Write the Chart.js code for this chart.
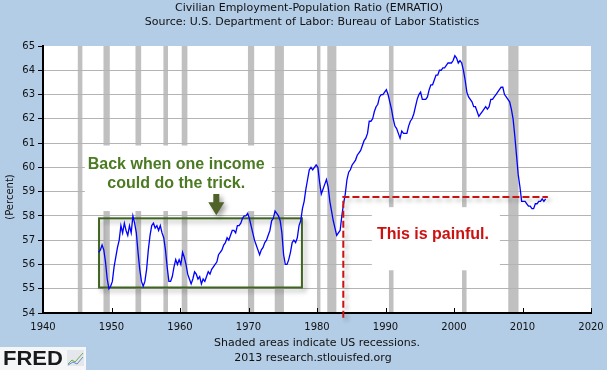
<!DOCTYPE html>
<html>
<head>
<meta charset="utf-8">
<script src="https://cdn.jsdelivr.net/npm/chart.js@4.4.1/dist/chart.umd.min.js"></script>
<style>
  html, body { margin: 0; padding: 0; background: #B3CDE6; }
  #wrap { width: 607px; height: 370px; }
</style>
</head>
<body>
<div id="wrap"><canvas id="emChart" width="607" height="370"></canvas></div>
<script>

// EMRATIO, quarterly readings, 1948 Q1 .. 2013 Q2
const firstYear = 1948;
const emratio = [
    56.5, 56.6, 56.8, 56.6,   // 1948
    56.1, 55.4, 55.0, 55.1,   // 1949
    55.3, 55.9, 56.3, 56.7,   // 1950
    57.0, 57.6, 57.3, 57.7,   // 1951
    57.4, 57.2, 57.6, 57.3,   // 1952
    58.0, 57.7, 57.3, 56.5,   // 1953
    55.8, 55.3, 55.1, 55.3,   // 1954
    55.8, 56.6, 57.2, 57.6,   // 1955
    57.7, 57.5, 57.6, 57.4,   // 1956
    57.6, 57.3, 57.1, 56.6,   // 1957
    55.9, 55.3, 55.3, 55.5,   // 1958
    55.9, 56.2, 56.0, 56.2,   // 1959
    56.0, 56.5, 56.3, 56.0,   // 1960
    55.6, 55.4, 55.2, 55.4,   // 1961
    55.7, 55.6, 55.4, 55.5,   // 1962
    55.2, 55.4, 55.3, 55.5,   // 1963
    55.7, 55.6, 55.8, 55.9,   // 1964
    56.0, 56.1, 56.4, 56.5,   // 1965
    56.6, 56.8, 56.9, 57.1,   // 1966
    57.0, 57.2, 57.4, 57.4,   // 1967
    57.3, 57.6, 57.6, 57.7,   // 1968
    57.9, 58.0, 58.0, 58.1,   // 1969
    57.9, 57.6, 57.3, 57.0,   // 1970
    56.8, 56.6, 56.4, 56.6,   // 1971
    56.7, 56.9, 57.0, 57.2,   // 1972
    57.4, 57.8, 57.9, 58.2,   // 1973
    58.1, 58.0, 57.8, 57.3,   // 1974
    56.4, 56.0, 56.0, 56.2,   // 1975
    56.5, 56.9, 57.0, 56.9,   // 1976
    57.1, 57.6, 57.8, 58.3,   // 1977
    58.6, 59.1, 59.5, 59.9,   // 1978
    60.0, 59.9, 60.0, 60.1,   // 1979
    60.0, 59.4, 58.9, 59.1,   // 1980
    59.3, 59.5, 59.2, 58.6,   // 1981
    58.2, 57.8, 57.5, 57.2,   // 1982
    57.3, 57.4, 58.0, 58.5,   // 1983
    58.9, 59.5, 59.8, 59.9,   // 1984
    60.1, 60.2, 60.3, 60.5,   // 1985
    60.6, 60.7, 60.9, 61.1,   // 1986
    61.2, 61.4, 61.9, 61.9,   // 1987
    62.0, 62.3, 62.5, 62.6,   // 1988
    62.9, 63.0, 63.0, 63.1,   // 1989
    63.2, 63.0, 62.7, 62.4,   // 1990
    62.0, 61.7, 61.6, 61.4,   // 1991
    61.2, 61.5, 61.4, 61.4,   // 1992
    61.4, 61.7, 61.9, 62.0,   // 1993
    62.2, 62.5, 62.8, 63.0,   // 1994
    63.1, 62.8, 62.8, 62.8,   // 1995
    62.9, 63.2, 63.4, 63.4,   // 1996
    63.6, 63.8, 63.8, 64.0,   // 1997
    64.0, 64.1, 64.1, 64.2,   // 1998
    64.3, 64.3, 64.3, 64.4,   // 1999
    64.6, 64.5, 64.3, 64.4,   // 2000
    64.3, 64.0, 63.6, 63.1,   // 2001
    62.9, 62.8, 62.7, 62.5,   // 2002
    62.5, 62.3, 62.1, 62.2,   // 2003
    62.3, 62.4, 62.5, 62.4,   // 2004
    62.5, 62.8, 62.8, 62.9,   // 2005
    63.0, 63.1, 63.2, 63.3,   // 2006
    63.3, 63.0, 62.9, 62.8,   // 2007
    62.7, 62.4, 62.0, 61.3,   // 2008
    60.5, 59.7, 59.2, 58.6,   // 2009
    58.6, 58.6, 58.5, 58.4,   // 2010
    58.4, 58.3, 58.3, 58.5,   // 2011
    58.5, 58.6, 58.6, 58.7,   // 2012
    58.6, 58.7                // 2013
];

// NBER recessions (start, end) as fractional years
const recessionStart = [1945.08, 1948.83, 1953.50, 1957.58, 1960.25, 1969.92, 1973.83, 1980.00, 1981.50, 1990.50, 2001.17, 2007.92];
const recessionEnd   = [1945.75, 1949.75, 1954.33, 1958.25, 1961.08, 1970.83, 1975.17, 1980.50, 1982.83, 1991.17, 2001.83, 2009.42];

const xTicks = [1940, 1950, 1960, 1970, 1980, 1990, 2000, 2010, 2020];
const yTicks = [54, 55, 56, 57, 58, 59, 60, 61, 62, 63, 64, 65];

const points = emratio.map((v, i) => ({ x: firstYear + i / 4 + 0.125, y: v }));

const BG = "#B3CDE6";
const GREEN = "#4B7A22";
const RED = "#CC1111";
const FONT = "'DejaVu Sans', Verdana, sans-serif";

// annotation layout, in data units
const notes = {
    greenBox: { x0: 1948.18, x1: 1977.8, y0: 55.05, y1: 57.9 },
    greenBack: { x0: 1946.1, x1: 1973.4, y0: 58.2, y1: 60.9 },
    greenText: { x: 1959.45, lines: [[60.1, "Back when one income"], [59.35, "could do the trick."]] },
    arrow: { x: 1965.3, top: 58.9, neck: 58.56, tip: 58.03 },
    redBack: { x0: 1988.0, x1: 2006.7, y0: 55.76, y1: 58.36 },
    redText: { x: 1996.93, y: 57.22, text: "This is painful." },
    redLine: { x0: 1983.84, x1: 2013.7, y: 58.78, bottom: 53.8 }
};

const fredDecor = {
    id: "fredDecor",
    beforeDraw(chart) {
        const { ctx, chartArea: a, scales: { x, y } } = chart;
        ctx.save();
        ctx.fillStyle = BG;
        ctx.fillRect(0, 0, chart.width, chart.height);
        ctx.fillStyle = "#FFFFFF";
        ctx.fillRect(a.left, a.top, a.right - a.left, a.bottom - a.top);
        ctx.fillStyle = "#C0C0C0";
        recessionStart.forEach((s, i) => {
            const x0 = x.getPixelForValue(s);
            const x1 = x.getPixelForValue(recessionEnd[i]);
            ctx.fillRect(x0, a.top, x1 - x0, a.bottom - a.top);
        });
        ctx.restore();
    },
    beforeDatasetsDraw(chart) {
        const { ctx, scales: { x, y } } = chart;
        ctx.save();
        ctx.fillStyle = "#FFFFFF";
        [notes.greenBack, notes.redBack].forEach(b => {
            const px0 = x.getPixelForValue(b.x0), px1 = x.getPixelForValue(b.x1);
            const py0 = y.getPixelForValue(b.y1), py1 = y.getPixelForValue(b.y0);
            ctx.fillRect(px0, py0, px1 - px0, py1 - py0);
        });

        // green frame round the old range, with a soft shadow
        const g = notes.greenBox;
        ctx.shadowColor = "rgba(0,0,0,0.35)";
        ctx.shadowBlur = 5;
        ctx.shadowOffsetX = 3;
        ctx.shadowOffsetY = 3;
        ctx.strokeStyle = "#3F6420";
        ctx.lineWidth = 2;
        ctx.strokeRect(x.getPixelForValue(g.x0), y.getPixelForValue(g.y1),
            x.getPixelForValue(g.x1) - x.getPixelForValue(g.x0),
            y.getPixelForValue(g.y0) - y.getPixelForValue(g.y1));

        // arrow
        const ar = notes.arrow;
        const ax = x.getPixelForValue(ar.x);
        const aTop = y.getPixelForValue(ar.top), aNeck = y.getPixelForValue(ar.neck), aTip = y.getPixelForValue(ar.tip);
        ctx.fillStyle = "#4F6228";
        ctx.beginPath();
        ctx.moveTo(ax - 3, aTop);
        ctx.lineTo(ax + 3, aTop);
        ctx.lineTo(ax + 3, aNeck);
        ctx.lineTo(ax + 8, aNeck);
        ctx.lineTo(ax, aTip);
        ctx.lineTo(ax - 8, aNeck);
        ctx.lineTo(ax - 3, aNeck);
        ctx.closePath();
        ctx.fill();
        ctx.restore();
    },
    afterDatasetsDraw(chart) {
        const { ctx, scales: { x, y } } = chart;
        ctx.save();

        // red dashed guide lines
        const r = notes.redLine;
        const rx = x.getPixelForValue(r.x0), ry = y.getPixelForValue(r.y);
        ctx.shadowColor = "rgba(0,0,0,0.3)";
        ctx.shadowBlur = 4;
        ctx.shadowOffsetX = 3;
        ctx.shadowOffsetY = 3;
        ctx.strokeStyle = RED;
        ctx.lineWidth = 2;
        ctx.setLineDash([7, 3]);
        ctx.beginPath();
        ctx.moveTo(rx, y.getPixelForValue(r.bottom));
        ctx.lineTo(rx, ry);
        ctx.lineTo(x.getPixelForValue(r.x1), ry);
        ctx.stroke();
        ctx.setLineDash([]);
        ctx.shadowColor = "transparent";

        ctx.textAlign = "center";
        ctx.textBaseline = "middle";
        ctx.font = "bold 16px 'Liberation Sans', Arial, sans-serif";
        ctx.fillStyle = GREEN;
        notes.greenText.lines.forEach(([v, t]) => {
            ctx.fillText(t, x.getPixelForValue(notes.greenText.x), y.getPixelForValue(v));
        });
        ctx.fillStyle = RED;
        ctx.fillText(notes.redText.text, x.getPixelForValue(notes.redText.x), y.getPixelForValue(notes.redText.y));
        ctx.restore();
    },
    afterDraw(chart) {
        const { ctx, chartArea: a, scales: { x } } = chart;
        ctx.save();
        // x ticks point up into the plot
        ctx.strokeStyle = "#000";
        ctx.lineWidth = 1;
        xTicks.forEach(t => {
            const px = Math.round(x.getPixelForValue(t)) + 0.5;
            ctx.beginPath();
            ctx.moveTo(px, a.bottom);
            ctx.lineTo(px, a.bottom - 5);
            ctx.stroke();
        });

        ctx.fillStyle = "#111";
        ctx.textAlign = "center";
        ctx.textBaseline = "middle";
        ctx.font = "11px " + FONT;
        ctx.fillText("Civilian Employment-Population Ratio (EMRATIO)", 309, 8);
        ctx.fillText("Source: U.S. Department of Labor: Bureau of Labor Statistics", 312, 22);
        ctx.fillText("Shaded areas indicate US recessions.", 317, 343);
        ctx.fillText("2013 research.stlouisfed.org", 313, 358);

        ctx.save();
        ctx.translate(10, 197);
        ctx.rotate(-Math.PI / 2);
        ctx.font = "10px " + FONT;
        ctx.fillText("(Percent)", 0, 0);
        ctx.restore();

        // FRED logo
        ctx.fillStyle = "#F4F6F8";
        ctx.fillRect(0, 347, 86, 23);
        ctx.fillStyle = "#1A1A1A";
        ctx.textAlign = "left";
        ctx.textBaseline = "alphabetic";
        ctx.save();
        ctx.translate(3, 365);
        ctx.scale(1.1, 1);
        ctx.font = "bold 20px 'Liberation Sans', Arial, sans-serif";
        ctx.fillText("FRED", 0, 0);
        ctx.restore();
        ctx.fillStyle = "#E4E8EC";
        ctx.fillRect(67, 350, 17, 16);
        ctx.lineWidth = 1;
        ctx.strokeStyle = "#6FA84A";
        ctx.beginPath();
        ctx.moveTo(68, 364); ctx.lineTo(72, 360); ctx.lineTo(75, 362); ctx.lineTo(83, 353);
        ctx.stroke();
        ctx.strokeStyle = "#5B8BC9";
        ctx.beginPath();
        ctx.moveTo(68, 365); ctx.lineTo(73, 362); ctx.lineTo(77, 364); ctx.lineTo(83, 357);
        ctx.stroke();
        ctx.restore();
    }
};

new Chart(document.getElementById("emChart"), {
    type: "line",
    data: {
        datasets: [{
            label: "EMRATIO",
            data: points,
            borderColor: "#0000FF",
            borderWidth: 1.3,
            pointRadius: 0,
            tension: 0,
            fill: false
        }]
    },
    options: {
        responsive: false,
        animation: false,
        events: [],
        layout: { padding: { top: 46, right: 16, left: 0, bottom: 0 } },
        plugins: { legend: { display: false }, tooltip: { enabled: false } },
        scales: {
            x: {
                type: "linear",
                min: 1940,
                max: 2020,
                afterFit: s => { s.height = 57; },
                afterBuildTicks: s => { s.ticks = xTicks.map(v => ({ value: v })); },
                grid: { display: false },
                border: { display: true, color: "#000", width: 2 },
                ticks: {
                    color: "#111",
                    padding: 0,
                    maxRotation: 0,
                    font: { family: FONT, size: 10 },
                    callback: v => String(v)
                }
            },
            y: {
                min: 54,
                max: 65,
                afterFit: s => { s.width = 43; },
                afterBuildTicks: s => { s.ticks = yTicks.map(v => ({ value: v })); },
                grid: {
                    color: c => (c.tick && (c.tick.value === 65 || c.tick.value === 54)) ? "rgba(0,0,0,0)" : "#B4B4B4",
                    tickColor: "#000",
                    tickLength: 5,
                    lineWidth: 1
                },
                border: { display: true, color: "#000", width: 2 },
                ticks: {
                    color: "#111",
                    padding: 3,
                    font: { family: FONT, size: 10 }
                }
            }
        }
    },
    plugins: [fredDecor]
});

</script>
</body>
</html>
